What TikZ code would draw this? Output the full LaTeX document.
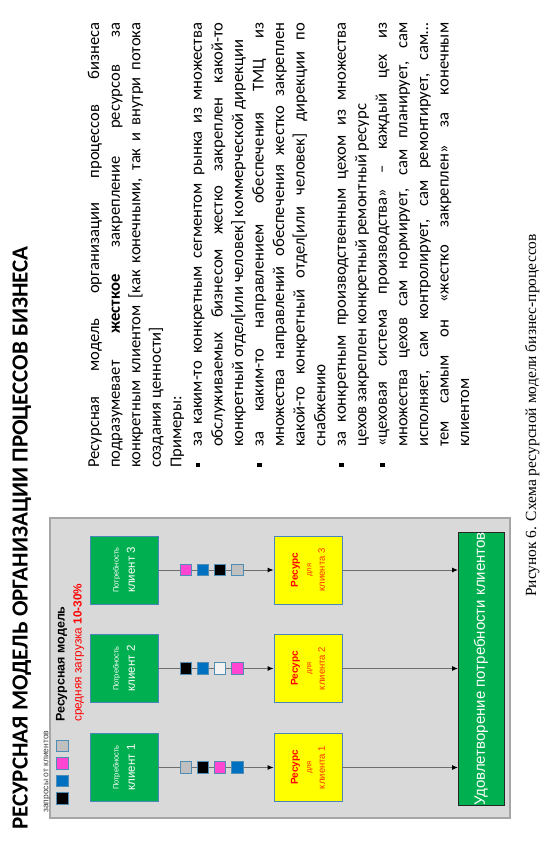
\documentclass[tikz,border=0pt]{standalone}
\usepackage{fontspec}
\setmainfont{Carlito}
\newfontfamily\arialf{Liberation Sans}
\newfontfamily\timesf{Liberation Serif}
\usetikzlibrary{arrows.meta}
\definecolor{slidegray}{HTML}{D9D9D9}
\definecolor{slideborder}{HTML}{A6A6A6}
\definecolor{needgreen}{HTML}{00B050}
\definecolor{boxblue}{HTML}{4A86B8}
\definecolor{resyellow}{HTML}{FFFF00}
\definecolor{sqpink}{HTML}{FF45D2}
\definecolor{sqblue}{HTML}{0070C0}
\definecolor{sqgray}{HTML}{C0C0C0}
\definecolor{sqwhite}{HTML}{F2F2F2}
\definecolor{sqborder}{HTML}{4F8DB5}
\definecolor{linegray}{HTML}{6E6E6E}
\definecolor{resred}{HTML}{FF0000}
\definecolor{resorange}{HTML}{FF3000}
\definecolor{legendtext}{HTML}{404040}
\newcommand\fs[2]{\fontsize{#1}{#2}\selectfont}
\begin{document}
\begin{tikzpicture}[x=1pt,y=1pt,
  needbox/.style={draw=boxblue, line width=0.8pt, fill=needgreen, minimum width=68pt, minimum height=68pt, inner sep=0pt, text=white, align=center, font=\arialf\fs{11.5}{16.3}},
  resbox/.style={draw=boxblue, line width=0.8pt, fill=resyellow, minimum width=68pt, minimum height=68pt, inner sep=0pt, align=center, font=\arialf\fs{9.5}{13.5}},
  sq/.style={draw=sqborder, line width=0.8pt, minimum size=11.3pt, inner sep=0pt},
  flow/.style={draw=linegray, line width=0.9pt, -{Latex[length=6pt,width=5pt,color=black]}},
  bodyline/.style={anchor=base west, inner sep=0pt, font=\fs{16.6}{20}},
  bulletsq/.style={fill=black, minimum size=4.5pt, inner sep=0pt},
  lbl/.style={anchor=base west, inner sep=0pt}
]
\fill[white] (0,0) rectangle (553,-847);
\useasboundingbox (0,0) rectangle (553,-847);
\begin{scope}[shift={(0,-847)}, rotate=90, transform shape]
% title
\node[lbl, font=\bfseries\fs{23}{27}] (title) at (17,-27.5) {РЕСУРСНАЯ МОДЕЛЬ ОРГАНИЗАЦИИ ПРОЦЕССОВ БИЗНЕСА};
% panel
\node[fill=slidegray, draw=slideborder, line width=1.5pt, minimum width=300pt, minimum height=460pt, inner sep=0pt] (panel) at (179,-280) {};
\node[lbl, font=\arialf\fs{8.5}{10}, text=legendtext] (req) at (34,-48.5) {запросы от клиентов};
\node[sq, fill=black] (lq1) at (48.5,-62.5) {};
\node[sq, fill=sqblue] (lq2) at (66,-62.5) {};
\node[sq, fill=sqpink] (lq3) at (83.5,-62.5) {};
\node[sq, fill=sqgray] (lq4) at (101,-62.5) {};
\node[lbl, font=\arialf\bfseries\fs{12.5}{15}] (model) at (125,-64.5) {Ресурсная модель};
\node[lbl, font=\arialf\fs{11.8}{15}, text=resred] (load) at (125,-81.5) {средняя загрузка \textbf{10-30\%}};
% need boxes
\node[needbox] (g1) at (79.5,-124) {{\fs{7.5}{9}Потребность}\\{клиент 1}};
\node[needbox] (g2) at (178.5,-124) {{\fs{7.5}{9}Потребность}\\{клиент 2}};
\node[needbox] (g3) at (277,-124) {{\fs{7.5}{9}Потребность}\\{клиент 3}};
% resource boxes
\node[resbox] (y1) at (79.5,-308) {{\bfseries\fs{10}{13.5}\color{resred}Ресурс}\\{\fs{7.5}{13.5}\color{resorange}для}\\{\color{resorange}клиента 1}};
\node[resbox] (y2) at (178.5,-308) {{\bfseries\fs{10}{13.5}\color{resred}Ресурс}\\{\fs{7.5}{13.5}\color{resorange}для}\\{\color{resorange}клиента 2}};
\node[resbox] (y3) at (277,-308) {{\bfseries\fs{10}{13.5}\color{resred}Ресурс}\\{\fs{7.5}{13.5}\color{resorange}для}\\{\color{resorange}клиента 3}};
% satisfaction bar
\node[draw=black!85, line width=0.8pt, fill=needgreen, minimum width=266pt, minimum height=46pt, inner sep=0pt, text=white, font=\arialf\fs{15}{18}] (sat) at (178,-481) {Удовлетворение потребности клиентов};
\coordinate (e1) at (79.5,-458);
\coordinate (e2) at (178.5,-458);
\coordinate (e3) at (277,-458);
% connectors
\draw[flow] (g1) -- (y1);
\draw[flow] (g2) -- (y2);
\draw[flow] (g3) -- (y3);
\draw[flow] (y1) -- (e1);
\draw[flow] (y2) -- (e2);
\draw[flow] (y3) -- (e3);
% request squares
\node[sq, fill=sqgray] (s1a) at (79.5,-185.7) {};
\node[sq, fill=black] (s1b) at (79.5,-202.7) {};
\node[sq, fill=sqpink] (s1c) at (79.5,-220) {};
\node[sq, fill=sqblue] (s1d) at (79.5,-237.3) {};
\node[sq, fill=black] (s2a) at (178.5,-185.7) {};
\node[sq, fill=sqblue] (s2b) at (178.5,-202.7) {};
\node[sq, fill=sqwhite] (s2c) at (178.5,-220) {};
\node[sq, fill=sqpink] (s2d) at (178.5,-237.3) {};
\node[sq, fill=sqpink] (s3a) at (277,-185.7) {};
\node[sq, fill=sqblue] (s3b) at (277,-202.7) {};
\node[sq, fill=black] (s3c) at (277,-220) {};
\node[sq, fill=sqgray] (s3d) at (277,-237.3) {};
% body text
\node[bodyline] (t1) at (379,-99.2) {\makebox[445pt][s]{Ресурсная модель организации процессов бизнеса}};
\node[bodyline] (t2) at (379,-119.75) {\makebox[445pt][s]{подразумевает \textbf{жесткое} закрепление ресурсов за}};
\node[bodyline] (t3) at (379,-140.3) {\makebox[445pt][s]{конкретным клиентом [как конечными, так и внутри потока}};
\node[bodyline] (t4) at (379,-160.85) {создания ценности]};
\node[bodyline] (t5) at (379,-181.4) {Примеры:};
\node[bulletsq] (b1) at (382,-197.75) {};
\node[bodyline] (t6) at (400,-201.95) {\makebox[424pt][s]{за каким-то конкретным сегментом рынка из множества}};
\node[bodyline] (t7) at (400,-222.5) {\makebox[424pt][s]{обслуживаемых бизнесом жестко закреплен какой-то}};
\node[bodyline] (t8) at (400,-243.05) {конкретный отдел[или человек] коммерческой дирекции};
\node[bulletsq] (b2) at (382,-259.4) {};
\node[bodyline] (t9) at (400,-263.6) {\makebox[424pt][s]{за каким-то направлением обеспечения ТМЦ из}};
\node[bodyline] (t10) at (400,-284.15) {\makebox[424pt][s]{множества направлений обеспечения жестко закреплен}};
\node[bodyline] (t11) at (400,-304.7) {\makebox[424pt][s]{какой-то конкретный отдел[или человек] дирекции по}};
\node[bodyline] (t12) at (400,-325.25) {снабжению};
\node[bulletsq] (b3) at (382,-341.6) {};
\node[bodyline] (t13) at (400,-345.8) {\makebox[424pt][s]{за конкретным производственным цехом из множества}};
\node[bodyline] (t14) at (400,-366.35) {цехов закреплен конкретный ремонтный ресурс};
\node[bulletsq] (b4) at (382,-382.7) {};
\node[bodyline] (t15) at (400,-386.9) {\makebox[424pt][s]{«цеховая система производства» – каждый цех из}};
\node[bodyline] (t16) at (400,-407.45) {\makebox[424pt][s]{множества цехов сам нормирует, сам планирует, сам}};
\node[bodyline] (t17) at (400,-428) {\makebox[424pt][s]{исполняет, сам контролирует, сам ремонтирует, сам…}};
\node[bodyline] (t18) at (400,-448.55) {\makebox[424pt][s]{тем самым он «жестко закреплен» за конечным}};
\node[bodyline] (t19) at (400,-469.1) {клиентом};
% caption
\node[lbl, font=\timesf\fs{15.5}{18}] (cap) at (250,-536) {Рисунок 6. Схема ресурсной модели бизнес-процессов};
\end{scope}
\end{tikzpicture}
\end{document}
